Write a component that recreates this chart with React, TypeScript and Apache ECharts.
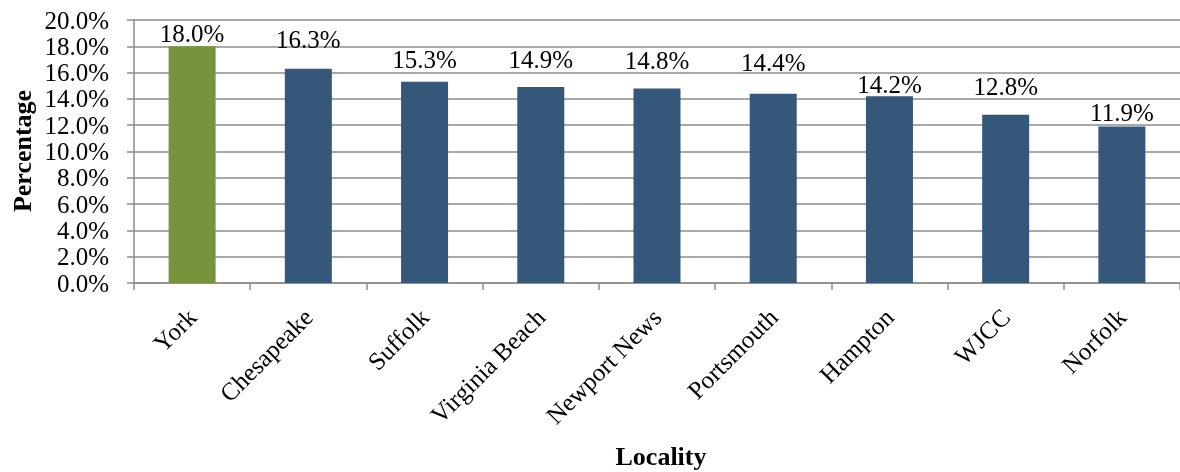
import React, { useEffect, useRef } from "react";
import * as echarts from "echarts";

const categories = ["York", "Chesapeake", "Suffolk", "Virginia Beach", "Newport News", "Portsmouth", "Hampton", "WJCC", "Norfolk"];
const values = [18.0, 16.3, 15.3, 14.9, 14.8, 14.4, 14.2, 12.8, 11.9];
const highlight = "York";
const yTicks = { min: 0, max: 20, interval: 2 };
// label gap above each bar (style, manually placed labels in the original)
const labelGaps = [0, 17, 10, 15, 15, 19, -1, 16, 2];

const FONT = "'Liberation Serif', 'Times New Roman', serif";

export default function App() {
  const ref = useRef<HTMLDivElement>(null);
  useEffect(() => {
    if (!ref.current) return;
    const chart = echarts.init(ref.current, undefined, { renderer: "svg" });
    chart.setOption({
      animation: false,
      textStyle: { fontFamily: FONT },
      grid: { left: 134, top: 20, width: 1055, height: 263, containLabel: false },
      xAxis: {
        type: "category",
        data: categories,
        axisLine: { lineStyle: { color: "#8c8c8c", width: 1.5 } },
        axisTick: { show: true, length: 7, alignWithLabel: false, lineStyle: { color: "#8c8c8c", width: 1.5 } },
        axisLabel: { rotate: 45, margin: 30, color: "#000", fontSize: 25, fontFamily: FONT, interval: 0 },
      },
      yAxis: {
        type: "value",
        min: yTicks.min,
        max: yTicks.max,
        interval: yTicks.interval,
        axisLine: { show: true, lineStyle: { color: "#8c8c8c", width: 1.5 } },
        axisTick: { show: true, length: 7, lineStyle: { color: "#8c8c8c", width: 1.5 } },
        splitLine: { lineStyle: { color: "#8c8c8c", width: 1.5 } },
        axisLabel: { color: "#000", fontSize: 25, fontFamily: FONT, margin: 25, formatter: (v: number) => v.toFixed(1) + "%" },
      },
      series: [
        {
          type: "bar",
          barWidth: 47,
          data: categories.map((c, i) => ({
            value: values[i],
            itemStyle: { color: c === highlight ? "#77933C" : "#35577A" },
            label: { distance: labelGaps[i] },
          })),
          label: {
            show: true,
            position: "top",
            color: "#000",
            fontSize: 25,
            fontFamily: FONT,
            formatter: (p: any) => p.value.toFixed(1) + "%",
          },
        },
      ],
      graphic: [
        {
          type: "text",
          rotation: Math.PI / 2,
          x: 22,
          y: 151,
          style: { text: "Percentage", fontSize: 26, fontWeight: "bold", fontFamily: FONT, fill: "#000", textAlign: "center", textVerticalAlign: "middle" },
        },
        {
          type: "text",
          x: 661,
          y: 456,
          style: { text: "Locality", fontSize: 26, fontWeight: "bold", fontFamily: FONT, fill: "#000", textAlign: "center", textVerticalAlign: "middle" },
        },
      ],
    });
    return () => chart.dispose();
  }, []);
  return <div ref={ref} style={{ position: "fixed", left: 0, top: 0, width: 1180, height: 472 }} />;
}
